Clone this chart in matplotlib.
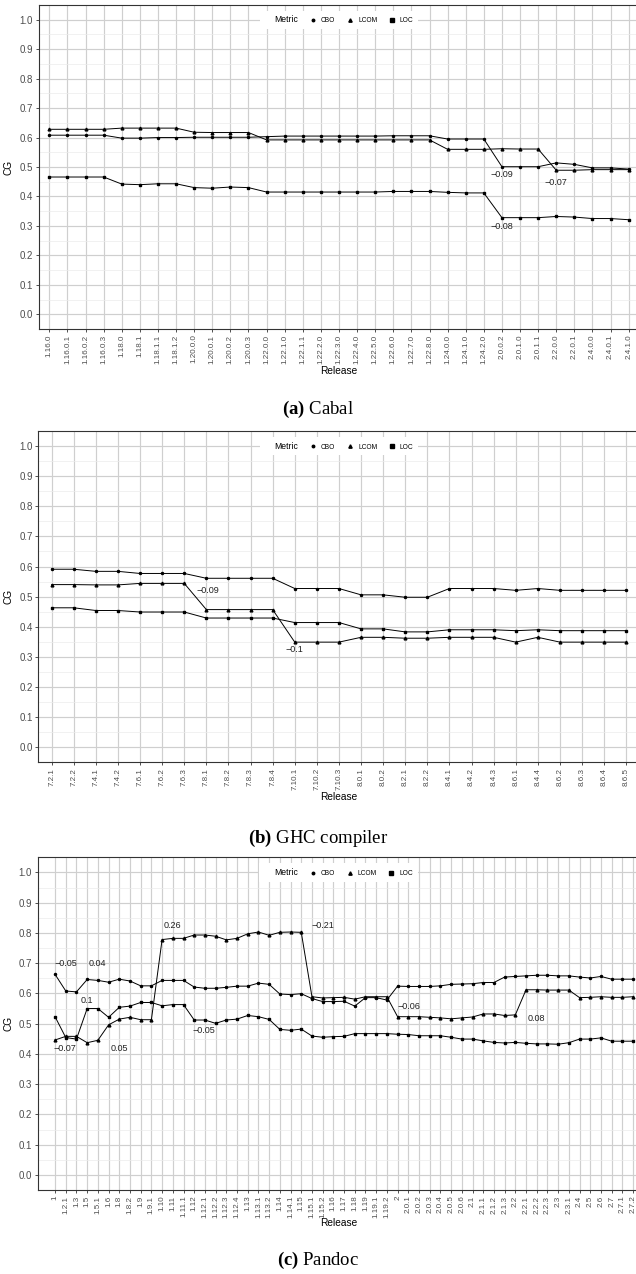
import numpy as np
import matplotlib.pyplot as plt
from matplotlib.lines import Line2D

plt.rcParams['font.family'] = ['Liberation Sans', 'DejaVu Sans']
plt.rcParams['mathtext.fontset'] = 'custom'
plt.rcParams['mathtext.rm'] = 'Liberation Serif'
plt.rcParams['mathtext.bf'] = 'Liberation Serif:bold'

# ---- (a) Cabal ----
cabal_releases = ['1.16.0', '1.16.0.1', '1.16.0.2', '1.16.0.3', '1.18.0', '1.18.1', '1.18.1.1',
                  '1.18.1.2', '1.20.0.0', '1.20.0.1', '1.20.0.2', '1.20.0.3', '1.22.0.0', '1.22.1.0',
                  '1.22.1.1', '1.22.2.0', '1.22.3.0', '1.22.4.0', '1.22.5.0', '1.22.6.0', '1.22.7.0',
                  '1.22.8.0', '1.24.0.0', '1.24.1.0', '1.24.2.0', '2.0.0.2', '2.0.1.0', '2.0.1.1',
                  '2.2.0.0', '2.2.0.1', '2.4.0.0', '2.4.0.1', '2.4.1.0']
cabal_cbo = [0.608, 0.608, 0.608, 0.608, 0.598, 0.598, 0.600, 0.600, 0.601, 0.601, 0.601,
             0.601, 0.603, 0.605, 0.605, 0.605, 0.605, 0.605, 0.605, 0.606, 0.606, 0.606,
             0.595, 0.595, 0.595, 0.501, 0.501, 0.501, 0.514, 0.509, 0.497, 0.497, 0.493]
cabal_lcom = [0.628, 0.628, 0.628, 0.628, 0.632, 0.632, 0.632, 0.632, 0.618, 0.617, 0.617,
              0.617, 0.592, 0.592, 0.592, 0.592, 0.592, 0.592, 0.592, 0.592, 0.592, 0.592,
              0.560, 0.560, 0.560, 0.562, 0.561, 0.561, 0.489, 0.489, 0.491, 0.491, 0.491]
cabal_loc = [0.466, 0.466, 0.466, 0.466, 0.442, 0.440, 0.443, 0.443, 0.430, 0.428, 0.432,
             0.430, 0.415, 0.415, 0.415, 0.415, 0.415, 0.415, 0.415, 0.417, 0.417, 0.417,
             0.414, 0.412, 0.412, 0.328, 0.328, 0.328, 0.332, 0.330, 0.325, 0.325, 0.321]
cabal_notes = [('\u22120.09', 25.0, 0.474), ('\u22120.07', 28.0, 0.449), ('\u22120.08', 25.0, 0.297)]

# ---- (b) GHC compiler ----
ghc_releases = ['7.2.1', '7.2.2', '7.4.1', '7.4.2', '7.6.1', '7.6.2', '7.6.3', '7.8.1', '7.8.2',
                '7.8.3', '7.8.4', '7.10.1', '7.10.2', '7.10.3', '8.0.1', '8.0.2', '8.2.1', '8.2.2',
                '8.4.1', '8.4.2', '8.4.3', '8.6.1', '8.4.4', '8.6.2', '8.6.3', '8.6.4', '8.6.5']
ghc_cbo = [0.591, 0.591, 0.584, 0.584, 0.577, 0.577, 0.577, 0.561, 0.561, 0.561, 0.561, 0.527,
           0.527, 0.527, 0.506, 0.506, 0.498, 0.498, 0.527, 0.527, 0.527, 0.521, 0.527, 0.521,
           0.521, 0.521, 0.521]
ghc_lcom = [0.540, 0.540, 0.539, 0.539, 0.544, 0.544, 0.544, 0.457, 0.457, 0.457, 0.457, 0.349,
            0.349, 0.349, 0.365, 0.365, 0.362, 0.362, 0.365, 0.365, 0.365, 0.349, 0.365, 0.349,
            0.349, 0.349, 0.349]
ghc_loc = [0.463, 0.463, 0.454, 0.454, 0.449, 0.449, 0.449, 0.429, 0.429, 0.429, 0.429, 0.414,
           0.414, 0.414, 0.393, 0.393, 0.383, 0.383, 0.390, 0.390, 0.390, 0.387, 0.390, 0.387,
           0.387, 0.387, 0.387]
ghc_notes = [('\u22120.09', 7.05, 0.522), ('\u22120.1', 10.98, 0.324)]

# ---- (c) Pandoc ----
pandoc_releases = ['1', '1.2.1', '1.3', '1.5', '1.5.1', '1.6', '1.8', '1.8.2', '1.9', '1.9.1',
                   '1.10', '1.11', '1.11.1', '1.12', '1.12.1', '1.12.2', '1.12.3', '1.12.4', '1.13',
                   '1.13.1', '1.13.2', '1.14', '1.14.1', '1.15', '1.15.1', '1.15.2', '1.16', '1.17',
                   '1.18', '1.19', '1.19.1', '1.19.2', '2', '2.0.1', '2.0.2', '2.0.3', '2.0.4',
                   '2.0.5', '2.0.6', '2.1', '2.1.1', '2.1.2', '2.1.3', '2.2', '2.2.1', '2.2.2',
                   '2.2.3', '2.3', '2.3.1', '2.4', '2.5', '2.6', '2.7', '2.7.1', '2.7.2']
pandoc_cbo = [0.663, 0.608, 0.605, 0.646, 0.643, 0.637, 0.647, 0.641, 0.625, 0.625, 0.643,
              0.643, 0.643, 0.621, 0.617, 0.617, 0.620, 0.624, 0.624, 0.634, 0.630, 0.598,
              0.596, 0.599, 0.583, 0.573, 0.573, 0.574, 0.558, 0.586, 0.586, 0.578, 0.624,
              0.623, 0.623, 0.623, 0.625, 0.630, 0.631, 0.632, 0.636, 0.636, 0.654, 0.656,
              0.658, 0.660, 0.660, 0.658, 0.658, 0.654, 0.651, 0.656, 0.647, 0.647, 0.647]
pandoc_lcom = [0.446, 0.458, 0.458, 0.437, 0.445, 0.496, 0.515, 0.521, 0.513, 0.513, 0.778,
               0.782, 0.782, 0.793, 0.793, 0.789, 0.777, 0.782, 0.797, 0.803, 0.792, 0.802,
               0.803, 0.802, 0.589, 0.585, 0.586, 0.587, 0.581, 0.589, 0.589, 0.589, 0.523,
               0.523, 0.523, 0.521, 0.519, 0.516, 0.519, 0.522, 0.532, 0.532, 0.527, 0.529,
               0.612, 0.612, 0.611, 0.611, 0.611, 0.586, 0.587, 0.589, 0.587, 0.587, 0.589]
pandoc_loc = [0.523, 0.454, 0.449, 0.550, 0.550, 0.521, 0.554, 0.558, 0.570, 0.570, 0.559,
              0.563, 0.563, 0.512, 0.512, 0.501, 0.512, 0.515, 0.527, 0.523, 0.514, 0.481,
              0.478, 0.482, 0.459, 0.455, 0.457, 0.458, 0.467, 0.467, 0.467, 0.467, 0.465,
              0.464, 0.460, 0.460, 0.460, 0.455, 0.449, 0.449, 0.443, 0.438, 0.436, 0.438,
              0.435, 0.433, 0.433, 0.432, 0.437, 0.449, 0.449, 0.453, 0.442, 0.442, 0.442]
pandoc_notes = [('\u22120.05', 0.99, 0.699), ('0.04', 3.99, 0.699), ('0.1', 2.96, 0.575),
                ('\u22120.07', 0.93, 0.419), ('0.05', 5.98, 0.419), ('0.26', 10.97, 0.825),
                ('\u22120.21', 24.98, 0.825), ('\u22120.05', 13.86, 0.479),
                ('\u22120.06', 33.1, 0.558), ('0.08', 44.95, 0.518)]

W, H = 636, 1274
fig = plt.figure(figsize=(W / 100, H / 100), dpi=100)


def draw_panel(left, top, bottom, releases, cbo, lcom, loc, notes, xlo, caption, cap_y, rel_y):
    right = 639.5
    ax = fig.add_axes([left / W, 1 - bottom / H, (right - left) / W, (bottom - top) / H])
    x = np.arange(len(releases))
    ax.plot(x, cbo, color='black', lw=0.7, marker='o', ms=1.5, zorder=3)
    ax.plot(x, lcom, color='black', lw=0.7, marker='^', ms=2.0, zorder=3)
    ax.plot(x, loc, color='black', lw=0.7, marker='s', ms=1.8, zorder=3)
    for txt, xi, yi in notes:
        ax.text(xi, yi, txt, fontsize=6.5, ha='center', va='center', color='#222222', zorder=4)

    ax.set_xlim(xlo, len(releases) - 0.4)
    ax.set_ylim(-0.05, 1.05)
    ax.set_xticks(x)
    ax.set_xticklabels(releases, rotation=90, fontsize=5.8, color='#4d4d4d')
    yt = np.round(np.arange(0, 1.01, 0.1), 1)
    ax.set_yticks(yt)
    ax.set_yticklabels(['%.1f' % v for v in yt], fontsize=7, color='#4d4d4d')
    ax.set_yticks(np.arange(0.05, 1.0, 0.1), minor=True)
    ax.tick_params(axis='both', which='major', length=2.5, width=0.6, color='#333333', pad=1.5)
    ax.tick_params(axis='y', which='minor', length=0)
    ax.grid(which='major', color='#cfcfcf', lw=0.85)
    ax.yaxis.grid(which='minor', color='#ebebeb', lw=0.5)
    ax.set_axisbelow(True)
    for s in ax.spines.values():
        s.set_color('#333333')
        s.set_linewidth(0.8)

    w = right - left
    hgt = bottom - top
    ax.text(0.5, (bottom - rel_y) / hgt, 'Release', transform=ax.transAxes,
            ha='center', va='center', fontsize=7.3)
    ax.text((9 - left) / w, 0.5, 'CG', transform=ax.transAxes, rotation=90,
            ha='center', va='center', fontsize=7.3)

    handles = [Line2D([], [], ls='none'),
               Line2D([], [], ls='none', marker='o', ms=1.8, color='black'),
               Line2D([], [], ls='none', marker='^', ms=2.4, color='black'),
               Line2D([], [], ls='none', marker='s', ms=2.2, color='black')]
    leg = ax.legend(handles, ['Metric', 'CBO', 'LCOM', 'LOC'], loc='center',
                    bbox_to_anchor=(0.5, 1.05 / 1.1), ncol=4, fontsize=4.8,
                    frameon=True, fancybox=False, framealpha=1, edgecolor='none',
                    handlelength=0.6, handletextpad=0.9, columnspacing=1.9,
                    borderpad=0.7, borderaxespad=0)
    leg.get_texts()[0].set_fontsize(6.2)
    leg.set_zorder(5)

    fig.text(0.5, 1 - cap_y / H, caption, ha='center', va='center',
             fontsize=13.5, family='Liberation Serif')
    return ax


draw_panel(38.5, 5, 329, cabal_releases, cabal_cbo, cabal_lcom, cabal_loc, cabal_notes,
           -0.6, r'$\mathbf{(a)}$ Cabal', 409, 371)
draw_panel(38.4, 431, 762.3, ghc_releases, ghc_cbo, ghc_lcom, ghc_loc, ghc_notes,
           -0.6, r'$\mathbf{(b)}$ GHC compiler', 838, 797)
draw_panel(37.5, 857.3, 1190, pandoc_releases, pandoc_cbo, pandoc_lcom, pandoc_loc, pandoc_notes,
           -1.64, r'$\mathbf{(c)}$ Pandoc', 1260, 1223)

fig.savefig('out.png', dpi=100)
